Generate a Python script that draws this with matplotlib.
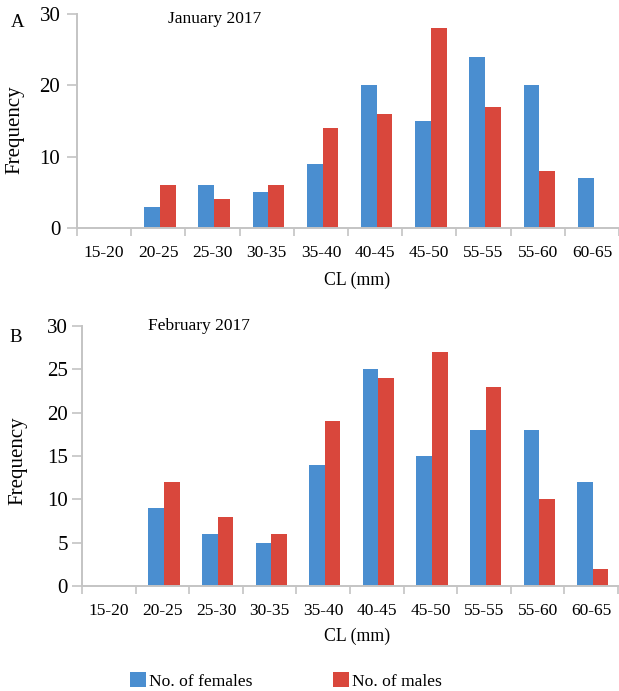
import numpy as np
import matplotlib
matplotlib.use('Agg')
import matplotlib.pyplot as plt
from matplotlib.patches import Patch

# Carapace length classes (labels as printed in the source figure)
classes = ['15-20', '20-25', '25-30', '30-35', '35-40', '40-45',
           '45-50', '55-55', '55-60', '60-65']

# January 2017
jan_females = [0, 3, 6, 5, 9, 20, 15, 24, 20, 7]
jan_males = [0, 6, 4, 6, 14, 16, 28, 17, 8, 0]

# February 2017
feb_females = [0, 9, 6, 5, 14, 25, 15, 18, 18, 12]
feb_males = [0, 12, 8, 6, 19, 24, 27, 23, 10, 2]

BLUE = '#4a8ed0'
RED = '#d9473c'
GREY = '#c4c4c4'

plt.rcParams['font.family'] = ['Liberation Serif', 'DejaVu Serif']

W, H = 619, 691
fig = plt.figure(figsize=(W / 100, H / 100), dpi=100)


def px_axes(left, right, top, bottom):
    """axes rect from pixel coordinates"""
    return [left / W, 1 - bottom / H, (right - left) / W, (bottom - top) / H]


def draw_panel(ax, females, males, yticks, ypad):
    x = np.arange(len(classes))
    w = 0.29
    ax.bar(x - w / 2 + 0.03, females, w, color=BLUE, linewidth=0)
    ax.bar(x + w / 2 + 0.03, males, w, color=RED, linewidth=0)

    ax.set_xlim(-0.5, len(classes) - 0.5)
    ax.set_ylim(0, 30)

    for s in ['top', 'right']:
        ax.spines[s].set_visible(False)
    for s in ['left', 'bottom']:
        ax.spines[s].set_color(GREY)
        ax.spines[s].set_linewidth(1.4)

    ax.set_yticks(yticks)
    ax.tick_params(axis='y', direction='out', length=7, width=1.2,
                   color=GREY, labelsize=15, pad=ypad)

    ax.set_xticks(x)
    ax.set_xticklabels(classes)
    ax.set_xticks(np.arange(-0.5, len(classes)), minor=True)
    ax.tick_params(axis='x', which='major', length=0, labelsize=12.5, pad=12)
    ax.tick_params(axis='x', which='minor', direction='out', length=6,
                   width=1.2, color=GREY)


# Panel A
axA = fig.add_axes(px_axes(77, 619, 14, 228))
draw_panel(axA, jan_females, jan_males, [0, 10, 20, 30], ypad=5)
fig.text(11 / W, 1 - 27 / H, 'A', fontsize=13.5, va='baseline')
fig.text(168 / W, 1 - 23 / H, 'January 2017', fontsize=12.5, va='baseline')
fig.text(15 / W, 1 - 130 / H, 'Frequency', fontsize=15, rotation=90,
         ha='center', va='center')
fig.text(357 / W, 1 - 280 / H, 'CL (mm)', fontsize=12.8, ha='center', va='center')

# Panel B
axB = fig.add_axes(px_axes(82, 618, 326, 586))
draw_panel(axB, feb_females, feb_males, [0, 5, 10, 15, 20, 25, 30], ypad=3)
fig.text(9 / W, 1 - 342 / H, 'B', fontsize=13.5, va='baseline')
fig.text(148 / W, 1 - 330 / H, 'February 2017', fontsize=12.5, va='baseline')
fig.text(18 / W, 1 - 461 / H, 'Frequency', fontsize=15, rotation=90,
         ha='center', va='center')
fig.text(357 / W, 1 - 636 / H, 'CL (mm)', fontsize=12.8, ha='center', va='center')

# Legend
handles = [Patch(facecolor=BLUE, label='No. of females'),
           Patch(facecolor=RED, label='No. of males')]
fig.legend(handles=handles, loc='center', bbox_to_anchor=(286 / W, 1 - 681 / H),
           ncol=2, frameon=False, fontsize=12.6, handlelength=0.9,
           handleheight=0.9, handletextpad=0.2, columnspacing=4.6,
           borderpad=0)

fig.savefig('out.png', dpi=100)
